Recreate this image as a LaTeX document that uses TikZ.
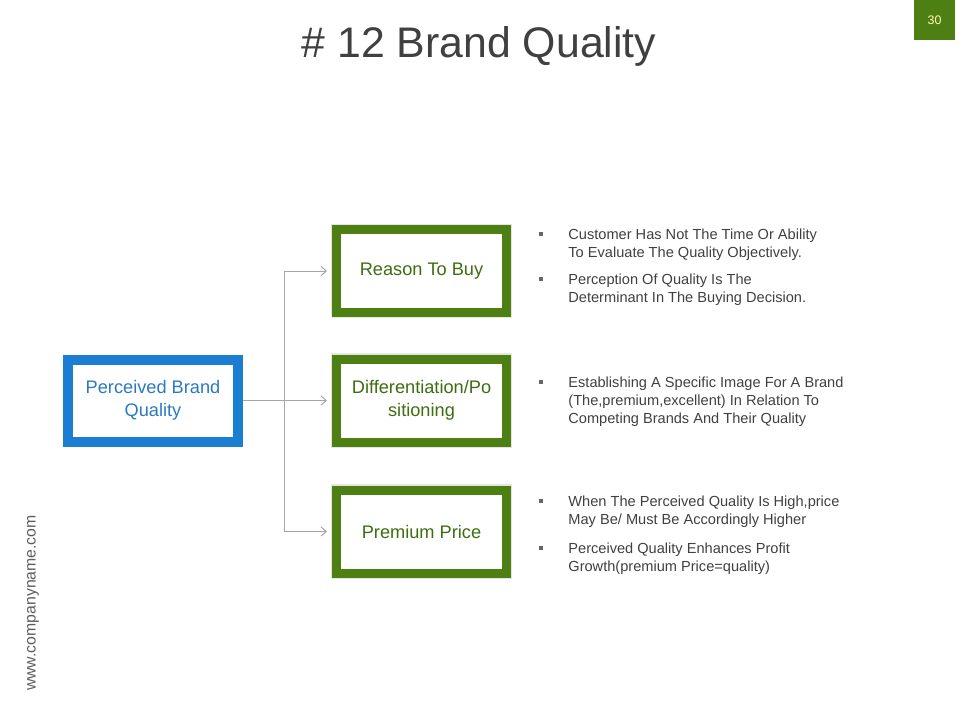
\documentclass[tikz,border=0pt]{standalone}
\usepackage{fontspec}
\setmainfont{Liberation Sans}
\usepackage{tikz}
\usetikzlibrary{arrows.meta,positioning}
\definecolor{slidegreen}{HTML}{4E7F13}
\definecolor{textgreen}{HTML}{3F6D10}
\definecolor{slideblue}{HTML}{1B7ED3}
\definecolor{textblue}{HTML}{2C79C2}
\definecolor{bodygray}{HTML}{404040}
\definecolor{linkgray}{HTML}{A6A6A6}

\begin{document}
\begin{tikzpicture}[
  x=0.5pt, y=-0.5pt,
  >={Straight Barb[length=2.6pt,width=4.6pt]},
  source/.style={draw=slideblue, fill=white, line width=5pt,
    minimum width=85pt, minimum height=41pt, align=center,
    text=textblue, font=\fontsize{9.1}{11.6}\selectfont},
  target/.style={draw=slidegreen, fill=white, line width=4.5pt,
    preaction={draw=black!10, line width=5.6pt},
    minimum width=85pt, minimum height=41.5pt, align=center,
    text=textgreen, font=\fontsize{9.1}{11.6}\selectfont},
  link/.style={->, draw=linkgray, line width=0.5pt, shorten >=2.5pt},
  bulletmark/.style={fill=bodygray!80, minimum size=2pt, inner sep=0pt},
  bullettext/.style={anchor=base west, align=left, inner sep=0pt,
    text=bodygray, font=\fontsize{7.3}{9}\selectfont}
]
  \useasboundingbox (0,0) rectangle (960,720);

  \node[text=bodygray, font=\fontsize{21.4}{24}\selectfont, anchor=base]
    (title) at (479,57) {\# 12 Brand Quality};
  \node[fill=slidegreen, minimum width=20.5pt, minimum height=20pt, inner sep=0pt,
    text=yellow!30!white, font=\fontsize{6.2}{7}\selectfont] (pageno) at (934.5,20) {30};
  \node[rotate=90, text=bodygray!85, font=\fontsize{7.9}{9}\selectfont]
    (website) at (33,603) {www.companyname.com};

  \node[source] (brand) at (153,400.5) {Perceived Brand\\Quality};
  \node[target] (reason) at (421.5,271) {Reason To Buy};
  \node[target] (position) at (421.5,400.5) {Differentiation/Po\\sitioning};
  \node[target] (premium) at (421.5,531.5) {Premium Price};

  \coordinate (split) at (284,400.5);

  \draw[link] (brand) -- (position);
  \draw[link] (split) |- (reason);
  \draw[link] (split) |- (premium);

  % text anchors sit on the baseline of the last line
  \node[bulletmark] (mark1) at (541,234) {};
  \node[bullettext] (item1) at (568,257)
    {Customer Has Not The Time Or Ability\\To Evaluate The Quality Objectively.};
  \node[bulletmark] (mark2) at (541,279) {};
  \node[bullettext] (item2) at (568,302)
    {Perception Of Quality Is The\\Determinant In The Buying Decision.};
  \node[bulletmark] (mark3) at (541,382) {};
  \node[bullettext] (item3) at (568,423)
    {Establishing A Specific Image For A Brand\\(The,premium,excellent) In Relation To\\Competing Brands And Their Quality};
  \node[bulletmark] (mark4) at (541,501) {};
  \node[bullettext] (item4) at (568,524)
    {When The Perceived Quality Is High,price\\May Be/ Must Be Accordingly Higher};
  \node[bulletmark] (mark5) at (541,548) {};
  \node[bullettext] (item5) at (568,571)
    {Perceived Quality Enhances Profit\\Growth(premium Price=quality)};
\end{tikzpicture}
\end{document}
